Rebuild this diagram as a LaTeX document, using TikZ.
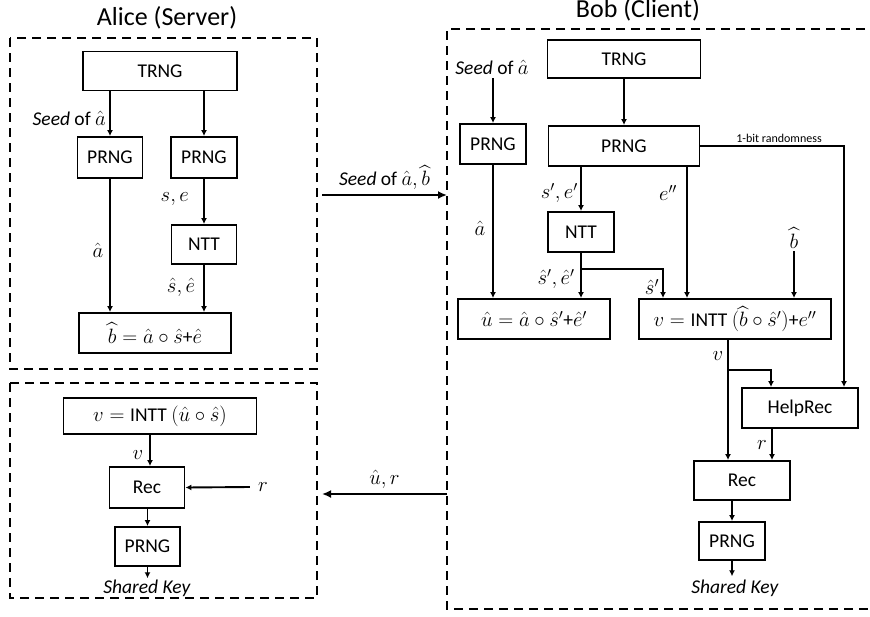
\documentclass[tikz,border=0pt]{standalone}
\usepackage{amsmath}
\usepackage{fontspec}
\setmainfont{Carlito}
\usetikzlibrary{arrows.meta,calc}
\begin{document}
\begin{tikzpicture}[x=1pt,y=-1pt,
  box/.style={draw, line width=1.9pt, inner sep=0pt, font=\fontsize{19.5}{22}\selectfont},
  lab/.style={inner sep=1pt, font=\fontsize{19.5}{22}\selectfont},
  small/.style={inner sep=1pt, font=\fontsize{12}{14}\selectfont},
  ttl/.style={inner sep=0pt, font=\fontsize{26}{29}\selectfont},
  arr/.style={line width=1.9pt, -{Latex[length=6pt,width=6pt]}},
  big/.style={line width=2.4pt, -{Latex[length=9pt,width=8pt]}},
  dbox/.style={line width=2.2pt, dash pattern=on 9pt off 6pt}]
\useasboundingbox (0,0) rectangle (870,616);

% ---------- dashed frames ----------
\draw[dbox] (10,38) rectangle (317,369);
\draw[dbox] (10,383) rectangle (317,598);
\draw[dbox] (880,29) -- (447,29) -- (447,609) -- (880,609);

\node[ttl, anchor=base] (tA) at (167,25) {Alice (Server)};
\node[ttl, anchor=base] (tB) at (638,17) {Bob (Client)};

% ---------- Alice top ----------
\node[box, minimum width=154pt, minimum height=39pt] (trngA) at (160,71) {TRNG};
\node[box, minimum width=65pt, minimum height=41pt] (prngA1) at (110,157.5) {PRNG};
\node[box, minimum width=66pt, minimum height=41pt] (prngA2) at (204,157.5) {PRNG};
\node[box, minimum width=65pt, minimum height=39pt] (nttA) at (204,244.5) {NTT};
\node[box, minimum width=152pt, minimum height=40pt] (bA) at (155,333) {$\widehat{b}=\hat a\circ\hat s$+$\hat e$};

\draw[arr] (trngA.south -| prngA1) -- (prngA1.north);
\draw[arr] (trngA.south -| prngA2) -- (prngA2.north);
\draw[arr] (prngA2.south) -- (nttA.north);
\draw[arr] (prngA1.south) -- (bA.north -| prngA1);
\draw[arr] (nttA.south) -- (bA.north -| nttA);

\node[lab, anchor=east] (seedA) at (107,118) {\textit{Seed} of $\hat a$};
\node[lab, anchor=east] (seA) at (190,199) {$s,e$};
\node[lab] (ahA) at (98,250) {$\hat a$};
\node[lab] (sheA) at (181,287) {$\hat s,\hat e$};

% ---------- Alice bottom ----------
\coordinate (cv) at (150,0);
\node[box, minimum width=193pt, minimum height=36pt] (inttA) at (160,416) {$v=\text{INTT}\ (\hat u\circ\hat s)$};
\node[box, minimum width=75pt, minimum height=41pt] (recA) at (147,487.5) {Rec};
\node[box, minimum width=65pt, minimum height=39pt] (prngA3) at (147.5,546.5) {PRNG};
\node[lab, anchor=base, inner sep=0pt] (skA) at (147,593) {\textit{Shared Key}};
\node[lab] (rA) at (263,487) {$r$};
\node[lab] (vA) at (138,455) {$v$};

\draw[arr] (inttA.south -| cv) -- (recA.north -| cv);
\draw[arr] ([xshift=-7pt]rA.west) -- (recA.east);
\draw[arr] (recA.south -| prngA3) -- (prngA3.north);
\draw[arr] (prngA3.south) -- ([yshift=1pt]skA.north -| prngA3);

% ---------- middle arrows ----------
\coordinate (m1a) at (322,195);
\coordinate (m1b) at (447,195);
\coordinate (m2a) at (447,494);
\coordinate (m2b) at (322,494);
\draw[big] (m1a) -- node[lab, above=3pt] (seedAB) {\textit{Seed} of $\hat a,\widehat{b}$} (m1b);
\draw[big] (m2a) -- node[lab, above=3pt] (ur) {$\hat u,r$} (m2b);

% ---------- Bob ----------
\node[lab] (seedB) at (492,67) {\textit{Seed} of $\hat a$};
\node[box, minimum width=66pt, minimum height=40pt] (prngB1) at (493,144) {PRNG};
\node[box, minimum width=153pt, minimum height=38pt] (trngB) at (624,59) {TRNG};
\node[box, minimum width=151pt, minimum height=40pt] (prngB2) at (624,146) {PRNG};
\node[box, minimum width=66pt, minimum height=40pt] (nttB) at (581,232) {NTT};
\node[box, minimum width=152pt, minimum height=40pt] (uB) at (534,319) {$\hat u=\hat a\circ\hat s'$+$\hat e'$};
\node[box, minimum width=192pt, minimum height=40pt] (vB) at (735,319) {$v=\text{INTT}\ (\widehat{b}\circ\hat s')$+$e''$};
\node[box, minimum width=116pt, minimum height=40pt] (help) at (800,408) {HelpRec};
\node[box, minimum width=96pt, minimum height=39pt] (recB) at (742,480.5) {Rec};
\node[box, minimum width=66pt, minimum height=38pt] (prngB3) at (732,541) {PRNG};
\node[lab, anchor=base, inner sep=0pt] (skB) at (735,593) {\textit{Shared Key}};

\node[lab] (ahB) at (480,228) {$\hat a$};
\node[lab, anchor=east] (seB) at (579,193) {$s',e'$};
\node[lab] (eppB) at (668,193) {$e''$};
\node[lab] (sheB) at (556,279) {$\hat s',\hat e'$};
\node[lab] (spB) at (652,287) {$\hat s'$};
\node[lab] (bhB) at (794,238) {$\widehat{b}$};
\node[lab] (vBl) at (718,356) {$v$};
\node[lab] (rB) at (762,445) {$r$};
\node[small, anchor=base] (onebit) at (779,142) {1-bit randomness};

\coordinate (c663) at (663,0);
\coordinate (c687) at (687,0);
\coordinate (c728) at (728,0);
\coordinate (c771) at (771,0);
\coordinate (c772) at (772,0);
\coordinate (c844) at (844,0);
\coordinate (br1) at (581,269);
\coordinate (br2) at (728,370);

\draw[arr] ([yshift=-3pt]seedB.south -| prngB1) -- (prngB1.north);
\draw[arr] (prngB1.south) -- (uB.north -| prngB1);
\draw[arr] (trngB.south) -- (prngB2.north);
\draw[arr] (prngB2.south -| nttB) -- (nttB.north);
\draw[arr] (prngB2.south -| c687) -- (vB.north -| c687);
\draw[arr] (prngB2.east) -| (help.north -| c844);
\draw[arr] (nttB.south) -- (uB.north -| nttB);
\draw[arr] (br1) -| (vB.north -| c663);
\draw[arr] ([yshift=-2pt]bhB.south) -- (vB.north -| bhB);
\draw[arr] (vB.south -| c728) -- (recB.north -| c728);
\draw[arr] (br2) -| (help.north -| c771);
\draw[arr] (help.south -| c772) -- (recB.north -| c772);
\draw[arr] (recB.south -| prngB3) -- (prngB3.north);
\draw[arr] (prngB3.south) -- ([yshift=3pt]skB.north -| prngB3);
\end{tikzpicture}
\end{document}
